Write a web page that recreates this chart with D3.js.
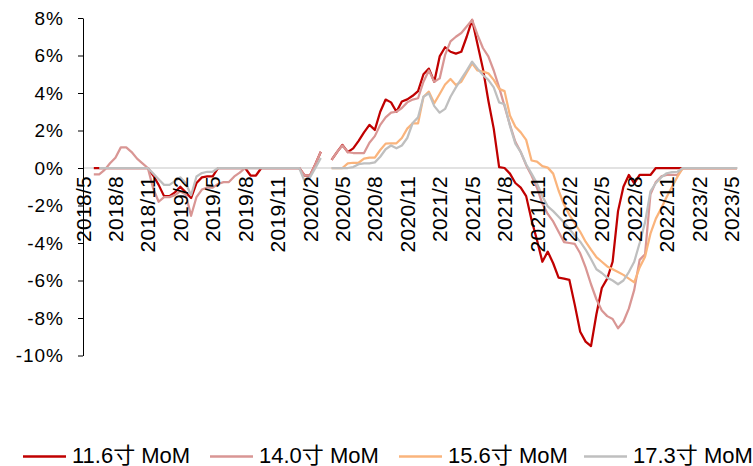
<!DOCTYPE html>
<html><head><meta charset="utf-8">
<script src="https://cdn.jsdelivr.net/npm/d3@7/dist/d3.min.js"></script>
<style>
html,body{margin:0;padding:0;background:#fff;}
svg{display:block;font-family:"Liberation Sans",Arial,"Noto Sans CJK SC",sans-serif;}
</style></head>
<body>
<svg id="chart" width="753" height="466"></svg>
<script>
// x categories: months since 2018/5, half-month steps (t = 1 ... 60.5)
const tIndex = d3.range(1, 60.75, 0.5);
const tickLabels = ["2018/5","2018/8","2018/11","2019/2","2019/5","2019/8","2019/11","2020/2","2020/5","2020/8","2020/11","2021/2","2021/5","2021/8","2021/11","2022/2","2022/5","2022/8","2022/11","2023/2","2023/5"];
const yTicks = [-10,-8,-6,-4,-2,0,2,4,6,8];
const seriesNames = ["11.6寸 MoM","14.0寸 MoM","15.6寸 MoM","17.3寸 MoM"];
const seriesColors = ["#c00000","#d99694","#fab47c","#bfbfbf"];

const s116 = [
 0,0,0,0,0,0,0,0,0,0,
 0,-0.4,-0.9,-1.5,-1.5,-1.3,-1.0,-1.3,-1.6,-0.8,
 -0.5,-0.45,-0.45,0,0,0,0,0,0,-0.4,
 -0.4,0,0,0,0,0,0,0,0,-0.4,
 -0.4,0.2,0.87,null,0.43,0.85,1.23,0.85,1.05,1.45,
 1.9,2.3,2.03,3.0,3.65,3.5,3.0,3.55,3.66,3.85,
 4.1,5.0,5.3,4.6,5.95,6.44,6.2,6.1,6.2,7.0,
 7.9,6.6,5.3,3.6,2.1,0.05,0,-0.3,-0.8,-1.05,
 -1.5,-2.77,-3.84,-5.0,-4.46,-5.08,-5.85,-5.9,-5.97,-7.3,
 -8.73,-9.26,-9.5,-7.8,-6.4,-5.9,-5.0,-2.3,-1.0,-0.37,
 -0.82,-0.37,-0.37,-0.37,0,0,0,0,0,0,
 0,0,0,0,0,0,0,0,0,0
];
const s140 = [
 -0.34,-0.34,-0.1,0.25,0.55,1.1,1.1,0.85,0.5,0.25,
 0,-1.1,-1.8,-1.55,-1.55,-1.45,-1.25,-1.4,-2.55,-1.55,
 -1.15,-1.05,-1.05,-0.85,-0.75,-0.75,-0.45,-0.25,0,0,
 0,0,0,0,0,0,0,0,0,-0.4,
 -0.4,0.2,0.87,null,0.43,0.85,1.2,0.85,0.8,0.8,
 0.8,1.35,1.7,2.3,2.7,2.95,3.0,3.2,3.5,3.65,
 3.72,4.6,5.2,4.6,4.78,6.03,6.75,7.0,7.2,7.55,
 7.9,7.1,6.4,5.95,5.2,4.3,3.3,2.3,1.4,0.85,
 0.15,-0.4,-1.05,-1.9,-2.45,-2.85,-3.4,-3.95,-4.0,-4.05,
 -4.55,-5.3,-6.2,-7.0,-7.6,-7.9,-8.05,-8.55,-8.2,-7.5,
 -6.5,-4.9,-4.6,-1.4,-0.75,-0.45,-0.37,-0.37,-0.37,0,
 0,0,0,0,0,0,0,0,0,0
];
const s156 = [
 null,null,null,null,null,null,null,null,null,null,
 null,null,null,null,null,null,null,null,null,null,
 null,null,null,null,null,null,null,null,null,null,
 null,null,null,null,null,null,null,null,null,null,
 null,null,null,null,0,0,0,0.25,0.28,0.28,
 0.5,0.55,0.55,0.96,1.3,1.32,1.32,1.6,2.1,2.38,
 2.38,3.8,4.07,3.45,3.95,4.45,4.75,4.43,4.6,5.1,
 5.58,5.2,5.14,5.05,4.7,4.22,4.1,2.8,2.2,1.9,
 1.5,0.4,0.34,0.1,0.02,-0.3,-1.2,-1.95,-2.5,-2.95,
 -3.4,-3.93,-4.35,-4.75,-5.0,-5.25,-5.4,-5.55,-5.7,-5.9,
 -6.1,-5.3,-4.73,-3.5,-2.7,-2.15,-1.55,-1.0,-0.46,0,
 0,0,0,0,0,0,0,0,0,0
];
const s173 = [
 null,0,0,0,0,0,0,0,0,0,
 0,-0.3,-0.6,-0.9,-0.9,-0.7,-0.5,-0.8,-1.45,-0.45,
 -0.27,-0.2,-0.2,0,0,0,0,0,0,0,
 0,0,0,0,0,0,0,0,0,-0.7,
 -0.5,0,0.53,null,0,0,0,0,0.05,0.2,
 0.25,0.25,0.3,0.6,1.0,1.2,1.05,1.2,1.6,2.4,
 2.7,3.8,3.98,3.3,2.95,3.15,3.8,4.3,4.75,5.2,
 5.67,5.3,4.96,4.7,4.3,3.5,3.4,2.25,1.3,0.85,
 0.2,-0.3,-0.82,-1.5,-2.05,-2.3,-2.6,-2.9,-3.25,-3.6,
 -3.93,-4.35,-4.85,-5.4,-5.6,-5.85,-6.0,-6.2,-6.0,-5.55,
 -5.0,-4.0,-2.9,-1.25,-0.8,-0.5,-0.28,-0.22,-0.2,0,
 0,0,0,0,0,0,0,0,0,0
];
const allSeries = [s116, s140, s156, s173];

const svg = d3.select("#chart");
const x = d3.scaleLinear().domain([0, 60.6]).range([83, 738]);
const y = d3.scaleLinear().domain([-10, 8]).range([355.5, 18]);

// zero (category) axis line
svg.append("line")
  .attr("x1", x(0)).attr("x2", x(60.6))
  .attr("y1", y(0)).attr("y2", y(0))
  .attr("stroke", "#d9d9d9").attr("stroke-width", 1.5);

// y axis
const yAxis = d3.axisLeft(y).tickValues(yTicks).tickFormat(d => d + "%")
  .tickSize(5).tickSizeOuter(0).tickPadding(14);
const gy = svg.append("g").attr("transform", `translate(${x(0)},0)`).call(yAxis);
gy.select(".domain").attr("stroke", "#000").attr("stroke-width", 1);
gy.selectAll(".tick line").attr("stroke", "#000");
gy.selectAll(".tick text").attr("font-size", 19).attr("fill", "#000")
  .attr("font-family", '"Liberation Sans",Arial,sans-serif').attr("letter-spacing", 1);

// lines
const line = d3.line()
  .defined(d => d[1] !== null)
  .x(d => x(d[0]))
  .y(d => y(d[1]));
allSeries.forEach((s, k) => {
  svg.append("path")
    .datum(tIndex.map((t, i) => [t, s[i]]))
    .attr("fill", "none")
    .attr("stroke", seriesColors[k])
    .attr("stroke-width", 2.25)
    .attr("stroke-linejoin", "round")
    .attr("d", line);
});

// x labels rotated
const gx = svg.append("g");
tickLabels.forEach((lab, i) => {
  gx.append("text")
    .attr("transform", `translate(${x(i * 3)},176) rotate(-90)`)
    .attr("text-anchor", "end")
    .attr("dy", "0.36em")
    .attr("font-size", 21)
    .attr("letter-spacing", 0.3)
    .attr("fill", "#000")
    .text(lab);
});

// legend
const legX = [23, 210, 399, 584];
const lg = svg.append("g");
seriesNames.forEach((n, k) => {
  lg.append("line")
    .attr("x1", legX[k]).attr("x2", legX[k] + 43)
    .attr("y1", 456.5).attr("y2", 456.5)
    .attr("stroke", seriesColors[k]).attr("stroke-width", 2.7);
  lg.append("text")
    .attr("x", legX[k] + 49).attr("y", 462.5)
    .attr("font-size", 22).attr("fill", "#000")
    .text(n);
});
</script>
</body></html>
